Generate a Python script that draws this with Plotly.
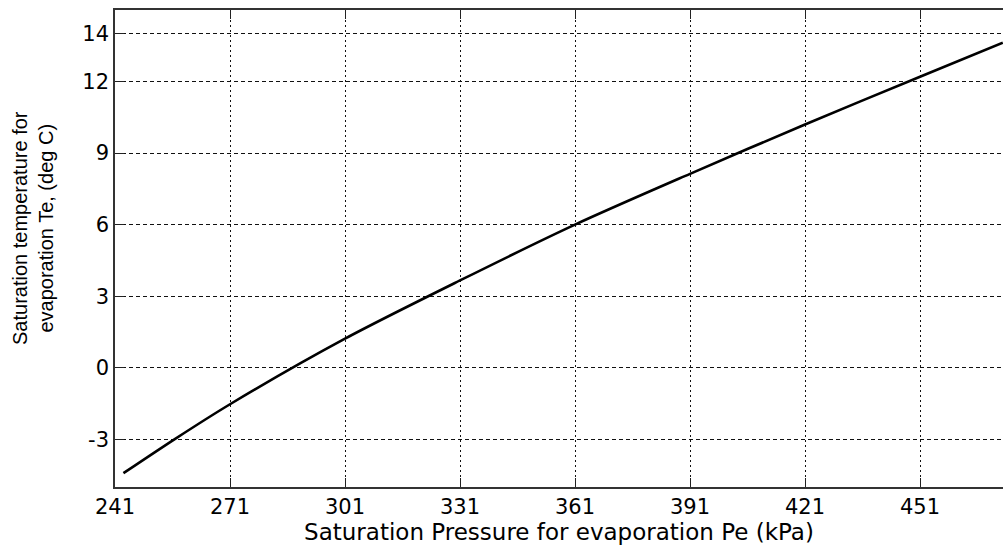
import plotly.graph_objects as go

# Saturation curve for the evaporator: pressure (kPa) vs temperature (deg C)
pressure_kpa = [243.2, 256.7, 271, 301, 331, 361, 391, 421, 451, 472.6]
temp_c = [-4.42, -2.98, -1.53, 1.22, 3.66, 6.0, 8.13, 10.2, 12.2, 13.63]

x_ticks = [241, 271, 301, 331, 361, 391, 421, 451]
y_ticks = [-3, 0, 3, 6, 9, 12, 14]

x_title = "Saturation Pressure for evaporation Pe (kPa)"
y_title = "Saturation temperature for<br>evaporation Te, (deg C)"

tick_font = dict(family="DejaVu Sans", size=21, color="black")

fig = go.Figure()
fig.add_trace(go.Scatter(
    x=pressure_kpa, y=temp_c, mode="lines",
    line=dict(color="black", width=2.6, shape="spline", smoothing=0.8),
    showlegend=False, hoverinfo="skip",
))

fig.update_layout(
    width=1003, height=545,
    margin=dict(l=115, r=0, t=10, b=58),
    paper_bgcolor="white", plot_bgcolor="white",
    xaxis=dict(
        range=[241, 472.65], tickvals=x_ticks, ticktext=[str(v) for v in x_ticks],
        ticks="inside", ticklen=9, tickcolor="#222", tickwidth=1.3,
        showline=True, linecolor="#333", linewidth=1.5, mirror="ticks",
        showgrid=True, gridcolor="#111", gridwidth=1, griddash="2px,3px",
        zeroline=False, tickfont=tick_font,
        title=dict(text=x_title, font=dict(family="DejaVu Sans", size=23, color="black"),
                   standoff=2),
        automargin=False,
    ),
    yaxis=dict(
        range=[-5, 15], tickvals=y_ticks, ticktext=[str(v) for v in y_ticks],
        ticks="inside", ticklen=9, tickcolor="#222", tickwidth=1.3,
        showline=True, linecolor="#333", linewidth=1.5, mirror=False,
        showgrid=True, gridcolor="#111", gridwidth=1, griddash="4px,3px",
        zeroline=False, tickfont=tick_font, automargin=False,
    ),
    annotations=[dict(
        text=y_title, textangle=-90, showarrow=False,
        xref="paper", yref="paper", x=0, y=0.543, xshift=-82,
        xanchor="center", yanchor="middle",
        font=dict(family="Liberation Sans", size=20, color="black"),
    )],
)

fig.write_html("out.html")
